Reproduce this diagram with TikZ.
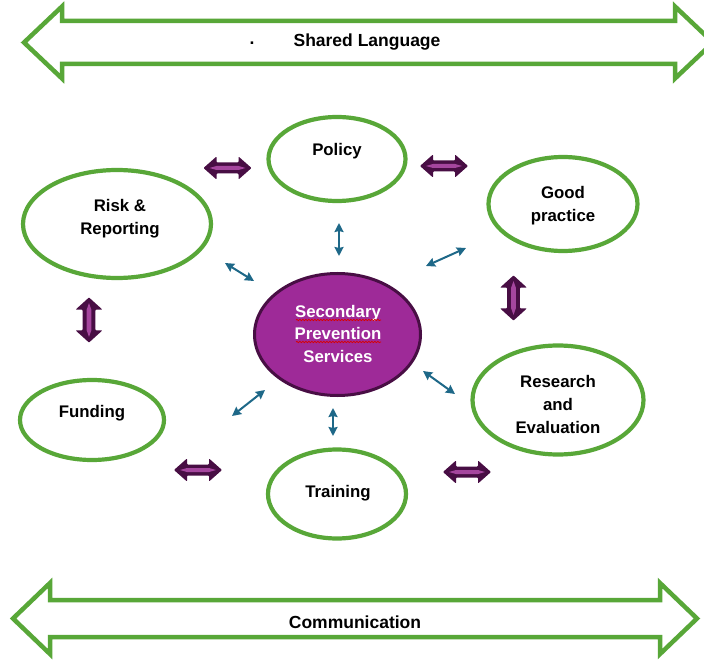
\documentclass[tikz,border=0pt]{standalone}
\usepackage{fontspec}
\setmainfont{Liberation Sans}
\usetikzlibrary{shapes.geometric,arrows.meta,decorations.pathmorphing}

\definecolor{leaf}{RGB}{88,167,56}
\definecolor{plum}{RGB}{158,42,152}
\definecolor{plumdark}{RGB}{72,14,68}
\definecolor{plumlight}{RGB}{165,70,158}
\definecolor{linkteal}{RGB}{30,104,136}

% two-headed block arrow used between neighbouring themes
\tikzset{
  swaparrow/.pic={
    \fill[plumdark, rounded corners=0.8pt]
      (-24,0) -- (-11,-11.5) -- (-11,-5.5) -- (11,-5.5) -- (11,-11.5) -- (24,0)
      -- (11,11.5) -- (11,5.5) -- (-11,5.5) -- (-11,11.5) -- cycle;
    \fill[plumlight]
      (-18,0) -- (-11,-2) -- (11,-2) -- (18,0) -- (11,2) -- (-11,2) -- cycle;
  }
}

\begin{document}
\begin{tikzpicture}[x=1pt,y=-1pt,
  bubble/.style={ellipse, draw=leaf, line width=4.2pt, fill=white, inner sep=0pt},
  hub/.style={ellipse, draw=plumdark, line width=3pt, fill=plum, inner sep=0pt},
  lbl/.style={font=\bfseries\fontsize{16.8}{23}\selectfont, align=center, text=black, inner sep=0pt},
  hublbl/.style={lbl, text=white, font=\bfseries\fontsize{16.8}{22.5}\selectfont},
  bannerlbl/.style={font=\bfseries\fontsize{17.5}{20}\selectfont, text=black, inner sep=0pt},
  banner/.style={draw=leaf, line width=4.5pt, line join=miter, fill=white},
  link/.style={draw=linkteal, line width=2pt,
    {Stealth[length=9pt,width=9pt,inset=1pt]}-{Stealth[length=9pt,width=9pt,inset=1pt]}},
  squiggle/.style={draw=red!85!black, line width=0.7pt, decorate,
    decoration={snake, amplitude=0.7pt, segment length=3pt}}
]
\clip (0,0) rectangle (704,660);
\fill[white] (0,0) rectangle (704,660);

% ---- banners ----
\path[banner] (24,42.5) -- (62,6.5) -- (62,21) -- (675,21) -- (675,6.5) -- (713,42.5)
  -- (675,78.5) -- (675,64) -- (62,64) -- (62,78.5) -- cycle;
\node[bannerlbl] (shared) at (367,42) {Shared Language};
\node[bannerlbl] (dot) at (252,43) {.};

\path[banner] (13,618.5) -- (50,583) -- (50,600) -- (660,600) -- (660,583) -- (697,618.5)
  -- (660,654) -- (660,637) -- (50,637) -- (50,654) -- cycle;
\node[bannerlbl] (comm) at (355,622) {Communication};

% ---- themes ----
\node[bubble, minimum width=137pt, minimum height=84pt]  (policy)   at (337,159) {};
\node[bubble, minimum width=149pt, minimum height=94pt]  (good)     at (563,204) {};
\node[bubble, minimum width=188pt, minimum height=108pt] (risk)     at (117,224) {};
\node[bubble, minimum width=144pt, minimum height=80pt]  (funding)  at (92,420) {};
\node[bubble, minimum width=138pt, minimum height=89pt]  (training) at (337,494) {};
\node[bubble, minimum width=171pt, minimum height=109pt] (research) at (558,400) {};
\node[hub, minimum width=166pt, minimum height=122pt]    (hub)      at (337.5,334.5) {};

\node[lbl] (policytxt)   at (337,151)   {Policy};
\node[lbl] (goodtxt)     at (563,205.5) {Good\\practice};
\node[lbl] (risktxt)     at (120,219)   {Risk \&\\Reporting};
\node[lbl] (fundingtxt)  at (92,413)    {Funding};
\node[lbl] (trainingtxt) at (338,493)   {Training};
\node[lbl] (researchtxt) at (558,404)   {Research\\and\\Evaluation};
\node[hublbl] (hubtxt)   at (338,333.5) {Secondary\\Prevention\\Services};

\path[squiggle] (296,320) -- (381,320);
\path[squiggle] (296,342) -- (381,342);

% ---- links between the hub and the themes ----
\coordinate (a1) at (339,223); \coordinate (b1) at (339,256);
\coordinate (a2) at (225,263); \coordinate (b2) at (254,281);
\coordinate (a3) at (426,266); \coordinate (b3) at (466,248);
\coordinate (a4) at (232,416); \coordinate (b4) at (265,390);
\coordinate (a5) at (333,408); \coordinate (b5) at (333,436);
\coordinate (a6) at (423,371); \coordinate (b6) at (455,394);
\foreach \i in {1,...,6} \draw[link] (a\i) -- (b\i);

% ---- exchanges between neighbouring themes ----
\pic at (227.5,168) {swaparrow};
\pic at (444,166) {swaparrow};
\pic at (198,470) {swaparrow};
\pic at (467,472) {swaparrow};
\pic[rotate=90, xscale=0.94, yscale=1.17] at (513.5,298) {swaparrow};
\pic[rotate=90, xscale=0.94, yscale=1.17] at (89,320) {swaparrow};
\end{tikzpicture}
\end{document}
